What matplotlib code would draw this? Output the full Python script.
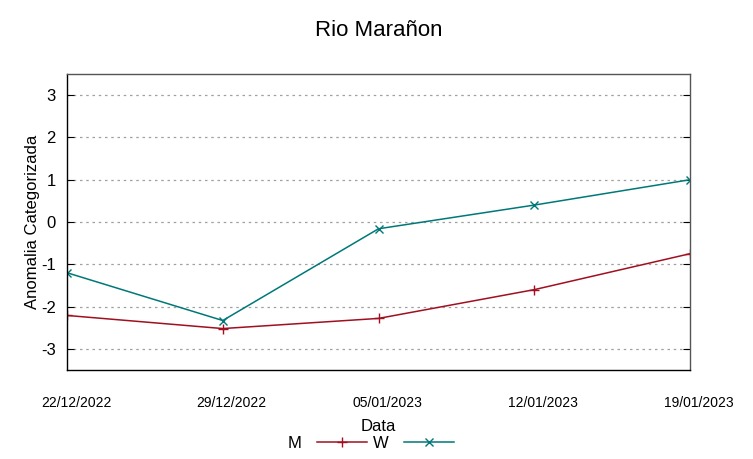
import matplotlib
matplotlib.use("Agg")
import matplotlib.pyplot as plt
import matplotlib.transforms as mtransforms

dates = ["22/12/2022", "29/12/2022", "05/01/2023", "12/01/2023", "19/01/2023"]
m_vals = [-2.21, -2.52, -2.28, -1.60, -0.75]
w_vals = [-1.20, -2.33, -0.16, 0.40, 1.00]

plt.rcParams["font.family"] = ["Liberation Sans", "DejaVu Sans"]
plt.rcParams["axes.unicode_minus"] = False

fig = plt.figure(figsize=(7.53, 4.59), dpi=100)
ax = fig.add_axes([67 / 753, 1 - 370 / 459, 623 / 753, 296 / 459])

x = range(len(dates))
ax.plot(x, m_vals, color="#a01020", lw=1.1, marker="+", ms=7, mew=1.0, label="M")
ax.plot(x, w_vals, color="#007878", lw=1.1, marker="x", ms=6, mew=1.0, label="W")

ax.set_xlim(0, len(dates) - 1)
ax.set_ylim(-3.5, 3.5)
ax.set_yticks([-3, -2, -1, 0, 1, 2, 3])
ax.set_xticks(list(x))
ax.set_xticklabels(dates, fontsize=10)
ax.tick_params(axis="x", length=0, pad=19)
ax.tick_params(axis="y", direction="in", length=5, right=True, labelsize=12, pad=8)
ax.grid(axis="y", color="#a0a0a0", ls=(0, (2, 3)), lw=0.9)

# gnuplot puts the date labels a bit right of the ticks
offset = mtransforms.ScaledTranslation(9 / 100, 0, fig.dpi_scale_trans)
for lab in ax.get_xticklabels():
    lab.set_transform(lab.get_transform() + offset)

for side in ["top", "right"]:
    ax.spines[side].set_color("#555555")
for sp in ax.spines.values():
    sp.set_linewidth(1.0)

ax.set_title("Rio Marañon", fontsize=16, pad=27)
ax.set_ylabel("Anomalia Categorizada", fontsize=12, labelpad=1)
ax.set_xlabel("Data", fontsize=12, labelpad=6)

ax.legend(loc="upper center", bbox_to_anchor=(0.488, -0.2), ncol=2, frameon=False,
          markerfirst=False, fontsize=12, handlelength=3.0, columnspacing=0.4,
          handletextpad=0.9, borderaxespad=0)

fig.savefig("out.png", dpi=100)
